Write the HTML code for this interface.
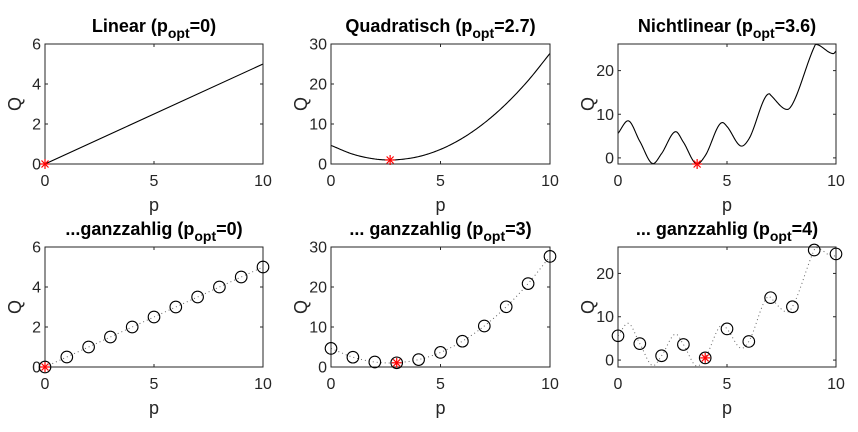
<!DOCTYPE html>
<html><head><meta charset="utf-8"><style>
html,body{margin:0;padding:0;background:#fff;}
svg{display:block;font-family:"Liberation Sans",Arial,sans-serif;}
</style></head><body>
<svg id="fig" width="858" height="432" viewBox="0 0 858 432" xmlns="http://www.w3.org/2000/svg"></svg>
<script>
// ---- data ----
const linP = [0, 10];
const linQ = [0, 5];
const quadP = [0, 1, 2, 2.7, 3, 4, 5, 6, 7, 8, 9, 10];
const quadQ = [4.65, 2.45, 1.25, 1.0, 1.05, 1.85, 3.65, 6.45, 10.25, 15.05, 20.85, 27.65];
const nlP = [0, 0.46, 1, 1.61, 2, 2.65, 3, 3.63, 4, 4.79, 5, 5.67, 6, 6.94, 7, 7.76, 8, 9, 9.07, 9.88, 10];
const nlQ = [5.6, 8.5, 3.8, -1.3, 1.0, 6.0, 3.6, -1.4, 0.5, 8.1, 7.2, 2.7, 4.3, 14.7, 14.4, 11.1, 12.3, 25.4, 26, 23.9, 24.5];
const intP = [0, 1, 2, 3, 4, 5, 6, 7, 8, 9, 10];
const intLinQ = [0, 0.5, 1, 1.5, 2, 2.5, 3, 3.5, 4, 4.5, 5];
const intQuadQ = [4.65, 2.45, 1.25, 1.05, 1.85, 3.65, 6.45, 10.25, 15.05, 20.85, 27.65];
const intNlQ = [5.6, 3.8, 1.0, 3.6, 0.5, 7.2, 4.3, 14.4, 12.3, 25.4, 24.5];
const xTicks = [0, 5, 10];
const yTicksLin = [0, 2, 4, 6];
const yTicksQuad = [0, 10, 20, 30];
const yTicksNl = [0, 10, 20];
const titles = ["Linear", "Quadratisch", "Nichtlinear", "...ganzzahlig", "... ganzzahlig", "... ganzzahlig"];
const optVals = ["0", "2.7", "3.6", "0", "3", "4"];
const optP = [0, 2.7, 3.63, 0, 3, 4];
const optQ = [0, 1.0, -1.4, 0, 1.05, 0.5];

const NS = "http://www.w3.org/2000/svg";
const svg = document.getElementById("fig");
function mk(tag, attrs, parent) {
  const e = document.createElementNS(NS, tag);
  for (const k in attrs) e.setAttribute(k, attrs[k]);
  (parent || svg).appendChild(e);
  return e;
}
function monotone(xs, ys, n) {
  const m = xs.length, d = [], t = [];
  for (let i = 0; i < m - 1; i++) d.push((ys[i+1]-ys[i])/(xs[i+1]-xs[i]));
  t[0] = d[0]; t[m-1] = d[m-2];
  for (let i = 1; i < m - 1; i++) t[i] = (d[i-1]*d[i] <= 0) ? 0 : (d[i-1]+d[i])/2;
  const out = [];
  for (let i = 0; i < m - 1; i++) {
    const h = xs[i+1]-xs[i];
    for (let k = 0; k < n; k++) {
      const s = k/n, s2 = s*s, s3 = s2*s;
      const y = (2*s3-3*s2+1)*ys[i] + (s3-2*s2+s)*h*t[i] + (-2*s3+3*s2)*ys[i+1] + (s3-s2)*h*t[i+1];
      out.push([xs[i]+s*h, y]);
    }
  }
  out.push([xs[m-1], ys[m-1]]);
  return out;
}
const boxesX = [[45, 263], [331, 550], [618, 836]];
const boxesY = [[44, 164], [247, 367]];
const panels = [
  {ylim:[0,6], yt:yTicksLin, curveP:linP, curveQ:linQ, pts:null, lin:true},
  {ylim:[0,30], yt:yTicksQuad, curveP:quadP, curveQ:quadQ, pts:null},
  {ylim:[-1.4,26.1], yt:yTicksNl, curveP:nlP, curveQ:nlQ, pts:null},
  {ylim:[0,6], yt:yTicksLin, curveP:linP, curveQ:linQ, pts:intLinQ, lin:true},
  {ylim:[0,30], yt:yTicksQuad, curveP:quadP, curveQ:quadQ, pts:intQuadQ},
  {ylim:[-1.6,26.1], yt:yTicksNl, curveP:nlP, curveQ:nlQ, pts:intNlQ}
];
const names = ["linear","quadratic","nonlinear","linear-integer","quadratic-integer","nonlinear-integer"];
panels.forEach((pn, i) => {
  const [x0, x1] = boxesX[i % 3], [y0, y1] = boxesY[Math.floor(i / 3)];
  const sx = v => x0 + (v - 0) / 10 * (x1 - x0);
  const sy = v => y1 - (v - pn.ylim[0]) / (pn.ylim[1] - pn.ylim[0]) * (y1 - y0);
  const g = mk("g", {});
  
  
  const clipId = "clip" + i;
  const cp = mk("clipPath", {id: clipId}, g);
  mk("rect", {x: x0, y: y0, width: x1 - x0, height: y1 - y0}, cp);
  const pts = pn.lin ? pn.curveP.map((p, k) => [p, pn.curveQ[k]]) : monotone(pn.curveP, pn.curveQ, 20);
  const dStr = pts.map((q, k) => (k ? "L" : "M") + sx(q[0]).toFixed(2) + " " + sy(q[1]).toFixed(2)).join(" ");
  const line = mk("path", {d: dStr, fill: "none", stroke: pn.pts ? "#666" : "#000", "stroke-width": pn.pts ? 1 : 1.1, "stroke-dasharray": pn.pts ? "1 3" : "none", "clip-path": "url(#" + clipId + ")"}, g);
  
  
  const box = mk("rect", {x: x0, y: y0, width: x1 - x0, height: y1 - y0, fill: "none", stroke: "#262626", "stroke-width": 1}, g);
  
  
  xTicks.forEach(t => {
    const X = sx(t);
    mk("line", {x1: X, x2: X, y1: y1, y2: y1 - 3, stroke: "#262626"}, g);
    mk("line", {x1: X, x2: X, y1: y0, y2: y0 + 3, stroke: "#262626"}, g);
    const tl = mk("text", {x: X, y: y1 + 22, "text-anchor": "middle", "font-size": 16, fill: "#262626"}, g);
    tl.textContent = t;
    
    
  });
  pn.yt.forEach(t => {
    const Y = sy(t);
    mk("line", {x1: x0, x2: x0 + 3, y1: Y, y2: Y, stroke: "#262626"}, g);
    mk("line", {x1: x1, x2: x1 - 3, y1: Y, y2: Y, stroke: "#262626"}, g);
    const tl = mk("text", {x: x0 - 4, y: Y + 5.5, "text-anchor": "end", "font-size": 16, fill: "#262626"}, g);
    tl.textContent = t;
    
    
  });
  const xl = mk("text", {x: (x0 + x1) / 2, y: y1 + 47, "text-anchor": "middle", "font-size": 18, fill: "#262626"}, g);
  xl.textContent = "p";
  
  
  const yl = mk("text", {x: 0, y: 0, "text-anchor": "middle", "font-size": 18, fill: "#262626", transform: "translate(" + (x0 - 24) + "," + ((y0 + y1) / 2) + ") rotate(-90)"}, g);
  yl.textContent = "Q";
  
  
  const tt = mk("text", {x: (x0 + x1) / 2, y: y0 - 12, "text-anchor": "middle", "font-size": 18, "font-weight": "bold", fill: "#000"}, g);
  
  
  const a = mk("tspan", {}, tt); a.textContent = titles[i] + " (p";
  const b = mk("tspan", {dy: 6, "font-size": 14}, tt); b.textContent = "opt";
  const c = mk("tspan", {dy: -6}, tt); c.textContent = "=" + optVals[i] + ")";
  if (pn.pts) {
    intP.forEach((p, k) => {
      const m = mk("circle", {cx: sx(p), cy: sy(pn.pts[k]), r: 5.8, fill: "none", stroke: "#000", "stroke-width": 1.1}, g);
      
      
    });
  }
  const ox = sx(optP[i]), oy = sy(optQ[i]), r = 5;
  const star = mk("g", {stroke: "#ff0000", "stroke-width": 1.2}, g);
  
  
  mk("line", {x1: ox - r, x2: ox + r, y1: oy, y2: oy}, star);
  mk("line", {x1: ox, x2: ox, y1: oy - r, y2: oy + r}, star);
  mk("line", {x1: ox - r*0.7, x2: ox + r*0.7, y1: oy - r*0.7, y2: oy + r*0.7}, star);
  mk("line", {x1: ox - r*0.7, x2: ox + r*0.7, y1: oy + r*0.7, y2: oy - r*0.7}, star);
});
</script>
</body></html>
